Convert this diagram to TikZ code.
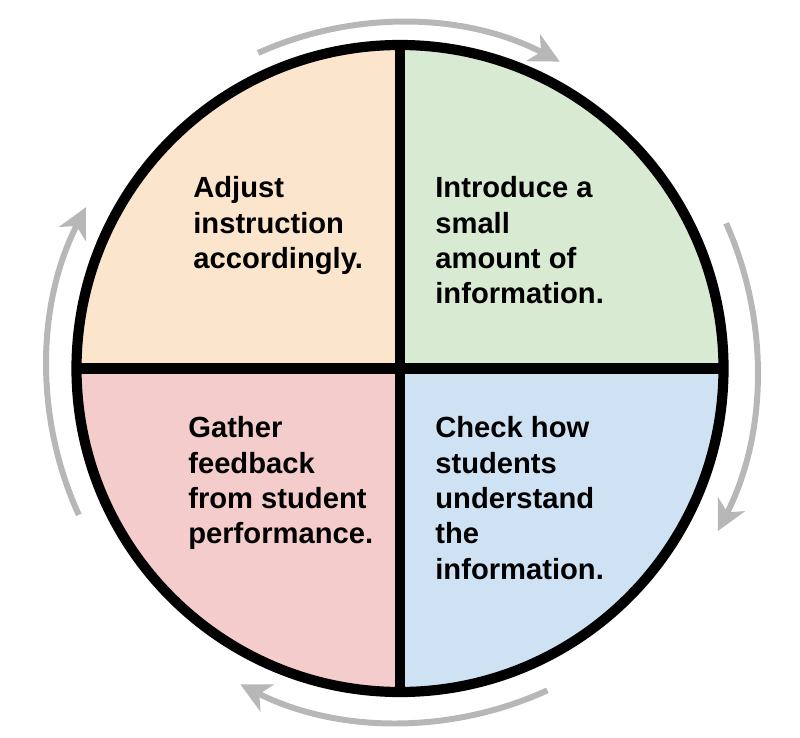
\documentclass[tikz,border=0pt]{standalone}
\usepackage{fontspec}
\setmainfont{Liberation Sans}
\usetikzlibrary{arrows.meta}
\definecolor{qorange}{HTML}{FCE5CD}
\definecolor{qgreen}{HTML}{D9EAD3}
\definecolor{qred}{HTML}{F4CCCC}
\definecolor{qblue}{HTML}{CFE2F3}
\definecolor{arrowgray}{HTML}{B7B7B7}
\begin{document}
\begin{tikzpicture}[x=0.02cm,y=0.02cm,
  lbl/.style={anchor=base west, align=left, inner sep=0pt,
    font=\bfseries\fontsize{16.6}{20.1}\selectfont},
  cyc/.style={draw=arrowgray, line width=3.4pt,
    -{Stealth[length=17pt,width=17pt,inset=5pt]}},
  ring/.style={draw=black, line width=5.8pt}]
\useasboundingbox (0,0) rectangle (800,737);
\coordinate (c) at (400,368.5);
\def\R{323.5}
% quadrants
\fill[qorange] (c) -- ++(180:\R) arc[start angle=180,end angle=90,radius=\R] -- cycle;
\fill[qgreen] (c) -- ++(90:\R) arc[start angle=90,end angle=0,radius=\R] -- cycle;
\fill[qblue] (c) -- ++(0:\R) arc[start angle=0,end angle=-90,radius=\R] -- cycle;
\fill[qred] (c) -- ++(-90:\R) arc[start angle=-90,end angle=-180,radius=\R] -- cycle;
% dividers and ring
\coordinate (top) at (400,692);
\coordinate (bot) at (400,45);
\coordinate (lft) at (76.5,368.5);
\coordinate (rgt) at (723.5,368.5);
\draw[ring] (top) -- (bot);
\draw[ring] (lft) -- (rgt);
\draw[ring] (c) circle[radius=\R];
% labels (anchored at the baseline of the last line)
\node[lbl] (adjust) at (193,468.4) {Adjust\\instruction\\accordingly.};
\node[lbl] (intro) at (435,433.1) {Introduce a\\small\\amount of\\information.};
\node[lbl] (gather) at (188,193.1) {Gather\\feedback\\from student\\performance.};
\node[lbl] (check) at (435,157.8) {Check how\\students\\understand\\the\\information.};
% cycle arrows
\coordinate (ts) at ([shift={(114.2:346)}]c);
\coordinate (rs) at ([shift={(24:357)}]c);
\coordinate (bs) at ([shift={(-65.4:354)}]c);
\coordinate (ls) at ([shift={(204.5:353)}]c);
\draw[cyc] (ts) arc[start angle=114.2,end angle=62.5,radius=346];
\draw[cyc] (rs) arc[start angle=24,end angle=-27.1,radius=357];
\draw[cyc] (bs) arc[start angle=-65.4,end angle=-116.8,radius=354];
\draw[cyc] (ls) arc[start angle=204.5,end angle=152.8,radius=353];
\end{tikzpicture}
\end{document}
